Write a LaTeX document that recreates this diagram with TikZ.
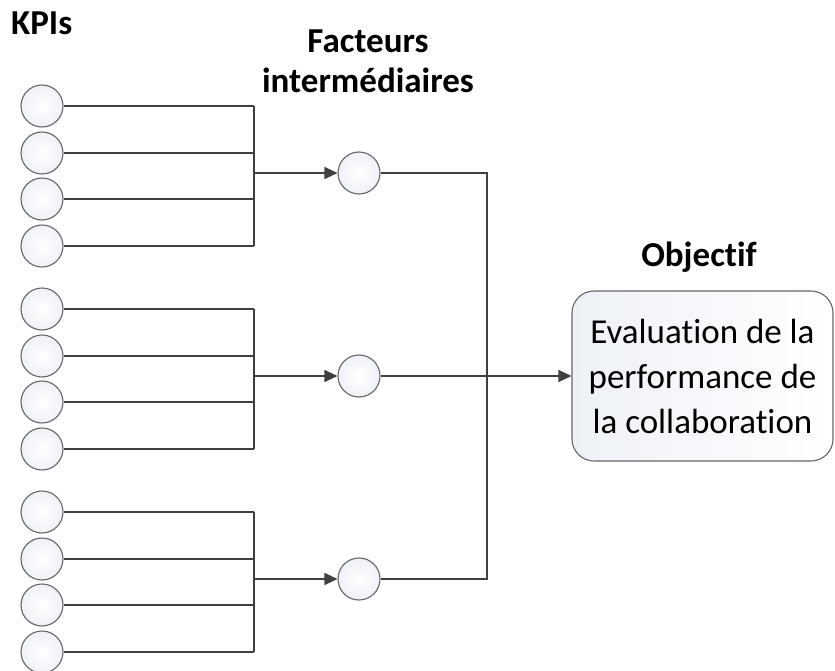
\documentclass[tikz,border=0pt]{standalone}
\usepackage{fontspec}
\setmainfont{Carlito}[Ligatures=NoCommon]
\usetikzlibrary{arrows.meta}
\definecolor{circfill}{HTML}{EEF1F7}
\definecolor{circline}{HTML}{666666}
\definecolor{wire}{HTML}{404040}
\begin{document}
\begin{tikzpicture}[x=1pt,y=-1pt,
  kpi/.style={circle,draw=circline,line width=1.1pt,inner color=white,outer color=circfill,minimum size=42pt,inner sep=0pt},
  wireline/.style={draw=wire,line width=1.1pt},
  arr/.style={wireline,-{Triangle[length=13pt,width=12pt]}},
  title/.style={font=\fontsize{35}{40}\selectfont\bfseries,inner sep=0pt},
  objbox/.style={draw=circline,line width=1.1pt,rounded corners=22pt,left color=circfill,right color=white,minimum width=261pt,minimum height=170pt,align=center,font=\fontsize{35}{45}\selectfont,inner sep=0pt}]
\useasboundingbox (0,0) rectangle (835,671);
% titles
\node[title,anchor=base west] (tk) at (11,35) {KPIs};
\node[title,anchor=base] (tf1) at (368,53) {Facteurs};
\node[title,anchor=base] (tf2) at (368,93) {intermédiaires};
\node[title,anchor=base] (to) at (699,266) {Objectif};
% KPI circles
\foreach \g/\off in {1/0,2/203,3/406}{
  \foreach \i/\y in {1/106,2/153,3/199,4/246}{
    \node[kpi] (k\g\i) at (42,\y+\off) {};
  }
  \coordinate (b\g) at (254,173+\off);
  \node[kpi] (f\g) at (359,173+\off) {};
  \foreach \i in {1,2,3,4}{
    \draw[wireline] (k\g\i.east) -- (k\g\i.east -| b\g);
  }
  \draw[wireline] (k\g1.east -| b\g) -- (k\g4.east -| b\g);
  \draw[arr] (b\g) -- (f\g.west);
}
% objective box
\node[objbox] (obj) at (702.5,376) {Evaluation de la\\performance de\\la collaboration};
\coordinate (j) at (487,376);
\draw[wireline] (f1.east) -- (f1.east -| j) -- (f3.east -| j) -- (f3.east);
\draw[arr] (f2.east) -- (f2.east -| obj.west);
\end{tikzpicture}
\end{document}
